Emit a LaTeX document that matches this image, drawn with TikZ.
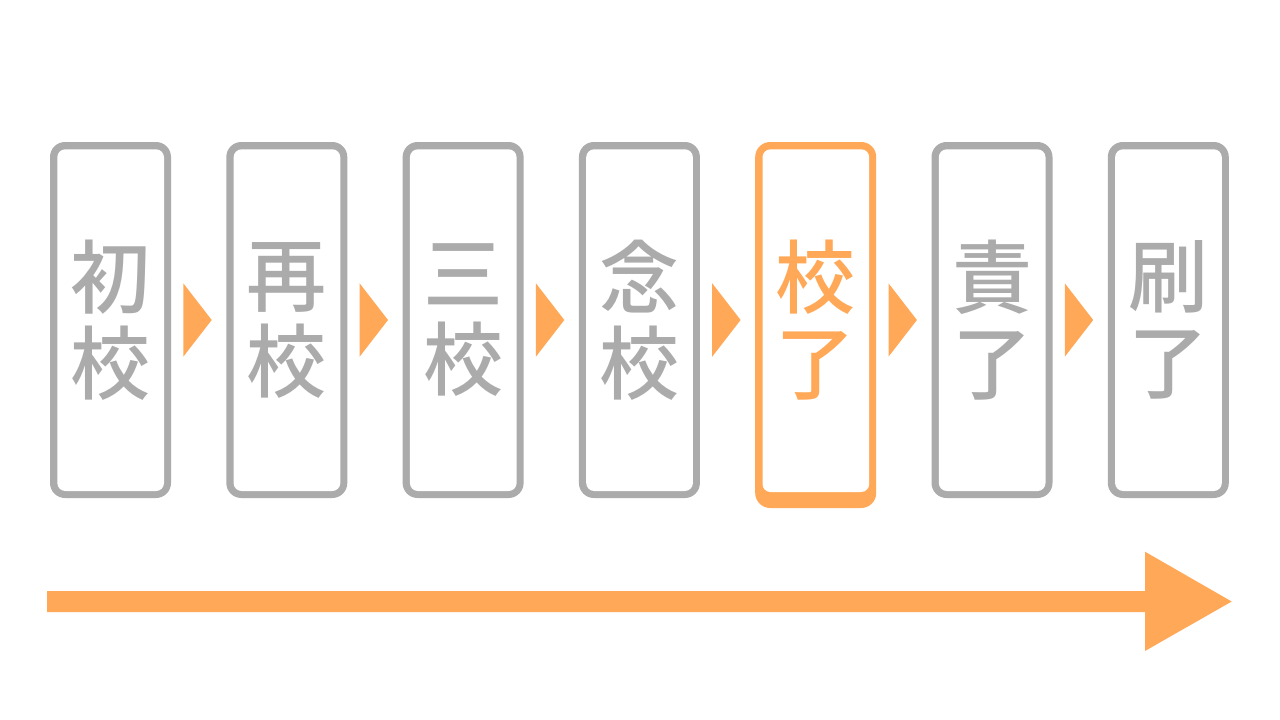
\documentclass[tikz,border=0pt]{standalone}
\usepackage{fontspec}
\newfontfamily\cjk{Noto Sans CJK JP Medium}
\definecolor{boxgray}{HTML}{ABABAB}
\definecolor{accent}{HTML}{FFA958}
\tikzset{
  label text/.style={font=\cjk\fontsize{80}{86}\selectfont, align=center, inner sep=0pt},
}
\begin{document}
\begin{tikzpicture}[x=1pt,y=-1pt]
\useasboundingbox (0,0) rectangle (1280,720);
\fill[white] (0,0) rectangle (1280,720);
\foreach \i/\t/\c/\b in {0/初\\校/boxgray/498, 1/再\\校/boxgray/498, 2/三\\校/boxgray/498, 3/念\\校/boxgray/498, 4/校\\了/accent/508, 5/責\\了/boxgray/498, 6/刷\\了/boxgray/498} {
  \pgfmathsetmacro{\L}{50+176.3*\i}
  \pgfmathsetmacro{\ib}{\b==508 ? 492 : 491}
  \fill[\c, rounded corners=15] (\L,142) rectangle ({\L+121},\b);
  \fill[white, rounded corners=8] ({\L+7.3},149.3) rectangle ({\L+114},\ib);
  \node[label text, text=\c] (t\i) at ({\L+60.5},320) {\t};
}
\foreach \i in {0,...,5} {
  \pgfmathsetmacro{\L}{183.3+176.3*\i}
  \coordinate (a\i) at (\L,283.3);
  \fill[accent] (a\i) -- ++(28.4,36.7) -- ++(-28.4,36.7) -- cycle;
}
\coordinate (s) at (47,601.5);
\coordinate (e) at (1231.7,601.5);
\fill[accent] (47,591) -- (1145,591) -- (1145,551.7) -- (e) -- (1145,651) -- (1145,612) -- (47,612) -- cycle;
\end{tikzpicture}
\end{document}
